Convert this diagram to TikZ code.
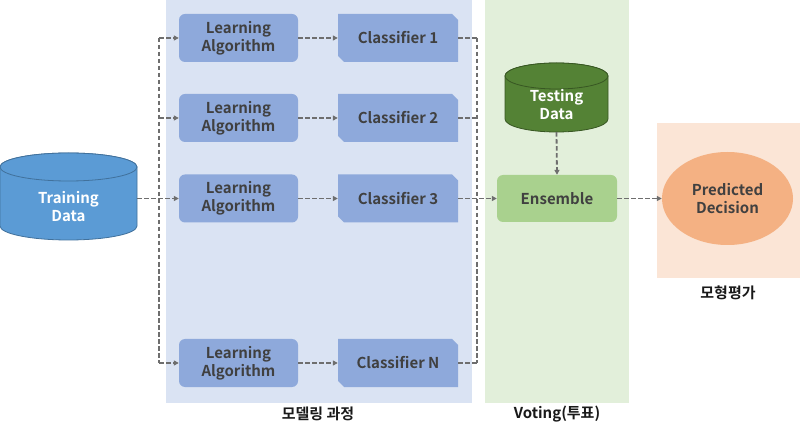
\documentclass[tikz,border=0pt]{standalone}
\usepackage{fontspec}
\setmainfont{Noto Sans CJK KR}[BoldFont={Noto Sans CJK KR Bold}]
\usetikzlibrary{arrows.meta,calc,shapes.geometric}
\definecolor{panelBlue}{HTML}{DAE3F3}
\definecolor{laBlue}{HTML}{8EA9DB}
\definecolor{txt}{HTML}{404040}
\definecolor{tdFill}{HTML}{5B9BD5}
\definecolor{tdBorder}{HTML}{41719C}
\definecolor{panelGreen}{HTML}{E2EFDA}
\definecolor{tsFill}{HTML}{548235}
\definecolor{tsBorder}{HTML}{385723}
\definecolor{ensFill}{HTML}{A9D18E}
\definecolor{panelOrange}{HTML}{FBE5D6}
\definecolor{predFill}{HTML}{F4B183}
\definecolor{lineGray}{HTML}{6E6E6E}
\newcommand\dbcyl[7]{% cx, topY, botY, rx, ry, fill, border
  \filldraw[fill=#6,draw=#7,line width=0.8bp] (#1-#4,#2) -- (#1-#4,#3)
    arc[start angle=180,end angle=0,x radius=#4,y radius=#5] -- (#1+#4,#2)
    arc[start angle=0,end angle=-180,x radius=#4,y radius=#5] -- cycle;
  \filldraw[fill=#6,draw=#7,line width=0.8bp] (#1,#2) ellipse[x radius=#4,y radius=#5];
}
\newcommand\clsshape[2]{% cx, cy
  \fill[laBlue] (#1-60,#2-24) -- (#1+54,#2-24) -- (#1+60,#2-18) -- (#1+60,#2+24)
    -- (#1-54,#2+24) -- (#1-60,#2+18) -- cycle;
}
\begin{document}
\begin{tikzpicture}[x=1bp,y=-1bp,
  font=\bfseries\fontsize{15bp}{18bp}\selectfont,
  labox/.style={rectangle,rounded corners=6bp,fill=laBlue,text=txt,minimum width=119bp,minimum height=48bp,inner sep=0pt,align=center},
  clsbox/.style={rectangle,text=txt,minimum width=120bp,minimum height=48bp,inner sep=0pt,align=center},
  dl/.style={draw=lineGray,line width=1.8bp,dash pattern=on 4.5bp off 2.5bp},
  dla/.style={dl,-{Triangle[length=5bp,width=5bp]}},
  captxt/.style={text=black!90,inner sep=0pt}]
% background / bounding box
\fill[white] (0,0) rectangle (800,435);
\useasboundingbox (0,0) rectangle (800,435);
% panels
\fill[panelBlue] (166,0) rectangle (472,403);
\fill[panelGreen] (485,0) rectangle (629,403);
\fill[panelOrange] (657,123) rectangle (800,278);
% training data cylinder
\dbcyl{68.5}{167}{226}{68.5}{14}{tdFill}{tdBorder}
\node[text=white,minimum width=137bp,minimum height=66bp,inner sep=0pt,align=center] (td) at (68.5,207) {Training\\Data};
% testing data cylinder
\dbcyl{556.5}{76}{119}{51.5}{13}{tsFill}{tsBorder}
\node[text=white,minimum width=103bp,minimum height=55bp,inner sep=0pt,align=center] (ts) at (556.5,104.5) {Testing\\Data};
% learning algorithm boxes
\node[labox] (la1) at (238.5,38) {Learning\\Algorithm};
\node[labox] (la2) at (238.5,118) {Learning\\Algorithm};
\node[labox] (la3) at (238.5,198.5) {Learning\\Algorithm};
\node[labox] (la4) at (238.5,363) {Learning\\Algorithm};
% classifier boxes
\clsshape{398}{38}
\clsshape{398}{118}
\clsshape{398}{198.5}
\clsshape{398}{363}
\node[clsbox] (c1) at (398,38) {Classifier 1};
\node[clsbox] (c2) at (398,118) {Classifier 2};
\node[clsbox] (c3) at (398,198.5) {Classifier 3};
\node[clsbox] (c4) at (398,363) {Classifier N};
% ensemble
\node[rectangle,rounded corners=6bp,fill=ensFill,text=txt,minimum width=120bp,minimum height=47bp,inner sep=0pt] (ens) at (557,198.5) {Ensemble};
% predicted decision
\node[ellipse,fill=predFill,text=txt,minimum width=131bp,minimum height=93bp,inner sep=0pt,align=center] (pd) at (727.5,198.5) {Predicted\\Decision};
% captions
\node[captxt] (cap1) at (318,414) {모델링 과정};
\node[captxt] (cap2) at (557,414) {Voting(투표)};
\node[captxt] (cap3) at (728,293) {모형평가};
% connectors: left bus
\coordinate (lt) at (159,38);
\coordinate (lb) at (159,363);
\draw[dl] (lt) -- (lb);
\draw[dla] (lt) -- (la1.west);
\draw[dla] (lt |- la2.west) -- (la2.west);
\draw[dla] (td.east |- la3.west) -- (la3.west);
\draw[dla] (lb) -- (la4.west);
% LA -> classifier
\draw[dla] (la1.east) -- (c1.west);
\draw[dla] (la2.east) -- (c2.west);
\draw[dla] (la3.east) -- (c3.west);
\draw[dla] (la4.east) -- (c4.west);
% right bus
\coordinate (rt) at (477,38);
\coordinate (rb) at (477,363);
\draw[dl] (rt) -- (rb);
\draw[dl] (c1.east) -- (rt);
\draw[dl] (c2.east) -- (rt |- c2.east);
\draw[dl] (c4.east) -- (rb);
\draw[dla] (c3.east) -- (ens.west);
% testing -> ensemble -> predicted
\draw[dla] (ts.south) -- (ens.north);
\draw[dla] (ens.east) -- (pd.west);
\end{tikzpicture}
\end{document}
